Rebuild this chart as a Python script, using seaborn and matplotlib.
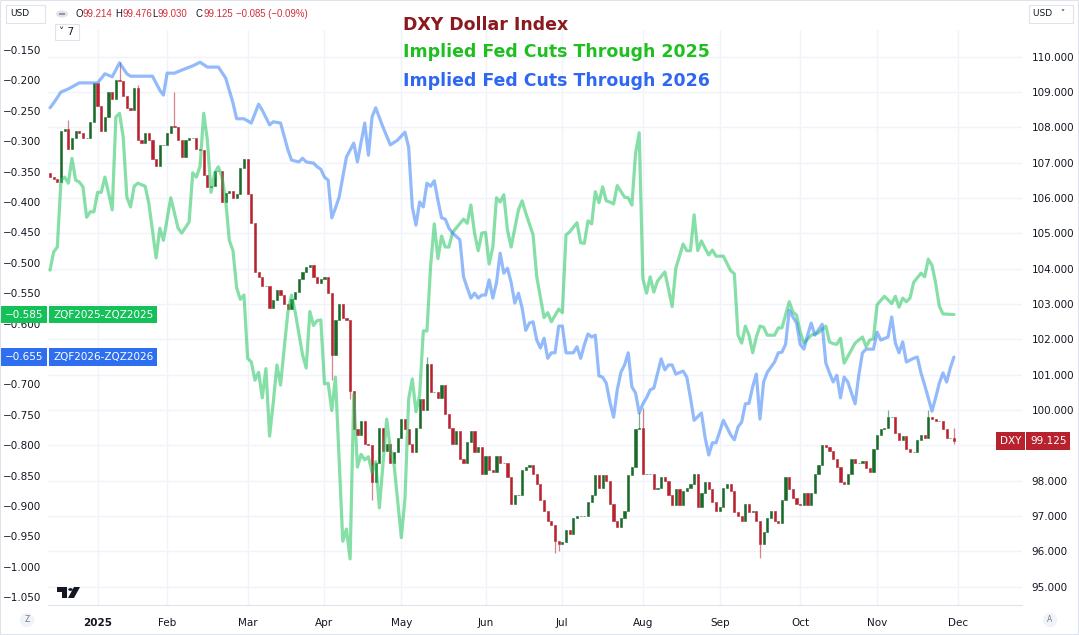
import numpy as np
import pandas as pd
import matplotlib
matplotlib.use('Agg')
import matplotlib.pyplot as plt
import matplotlib.transforms as mtrans
from matplotlib.patches import Rectangle, Circle, Polygon
import seaborn as sns

# DXY daily closes (one per trading session, mid-Dec 2024 -> end Nov 2025)
dxy_first_open = 106.72
dxy_close = [
    106.60, 106.55, 106.45, 107.90, 107.95, 107.40, 107.70, 107.90, 107.85, 107.70,
    107.70, 108.15, 109.25, 108.60, 107.90, 108.30, 109.00, 108.80, 109.35, 109.30,
    108.90, 108.55, 108.50, 109.10, 107.65, 107.55, 107.85, 107.65, 107.10, 106.90,
    107.50, 107.50, 107.85, 108.05, 108.00, 107.65, 107.15, 107.65, 107.70, 107.70,
    107.40, 107.35, 106.65, 106.30, 106.35, 106.75, 106.75, 105.90, 106.15, 106.20,
    106.00, 106.10, 106.85, 107.10, 106.10, 105.30, 103.90, 103.75, 103.50, 103.50,
    102.90, 103.10, 103.40, 103.25, 103.00, 102.85, 103.15, 103.35, 103.70, 103.90,
    104.05, 104.10, 103.75, 103.60, 103.70, 103.75, 103.30, 101.55, 102.55, 103.00,
    102.60, 102.55, 100.55, 99.45, 99.30, 99.70, 99.05, 99.00, 97.95, 98.50,
    99.50, 98.85, 99.05, 98.50, 98.80, 99.20, 99.75, 99.45, 99.05, 98.80,
    99.50, 100.30, 100.00, 101.30, 100.50, 100.50, 100.35, 100.70, 99.90, 99.50,
    99.05, 99.40, 98.60, 98.50, 99.10, 99.40, 98.80, 98.95, 98.20, 98.70,
    98.30, 98.25, 98.70, 98.50, 98.50, 98.10, 97.35, 97.60, 97.60, 98.30,
    98.40, 98.45, 98.20, 97.90, 97.45, 97.15, 96.85, 96.75, 96.30, 96.20,
    96.25, 96.60, 96.50, 96.95, 97.00, 97.00, 97.00, 97.40, 97.60, 98.15,
    97.80, 98.15, 98.00, 97.35, 96.85, 96.70, 96.95, 97.15, 98.15, 98.40,
    99.45, 99.50, 98.20, 98.20, 98.20, 97.75, 97.80, 98.10, 98.00, 97.60,
    97.30, 97.75, 97.30, 97.70, 97.80, 97.90, 98.20, 97.25, 97.65, 97.95,
    97.75, 97.40, 97.15, 97.25, 97.80, 97.90, 97.70, 97.10, 97.00, 96.85,
    97.35, 97.10, 97.15, 96.85, 96.20, 96.55, 96.95, 97.15, 96.85, 96.80,
    97.45, 98.10, 97.75, 97.50, 97.35, 97.30, 97.65, 97.30, 97.65, 98.20,
    98.45, 99.00, 98.95, 98.85, 98.60, 98.40, 97.95, 97.90, 98.20, 98.60,
    98.50, 98.50, 98.55, 98.35, 98.25, 98.90, 99.30, 99.45, 99.50, 99.80,
    99.80, 99.35, 99.15, 99.25, 98.90, 98.80, 98.80, 99.15, 99.30, 99.20,
    99.80, 99.75, 99.70, 99.70, 99.45, 99.20, 99.210, 99.125,
]
# last session as shown in the header
dxy_last_open = 99.214
# visible wick extremes (session -> price)
dxy_highs = {5: 108.2, 19: 109.85, 24: 109.2, 34: 109.0, 103: 101.5,
             161: 99.95, 162: 100.05, 229: 100.0, 240: 100.0, 247: 99.476}
dxy_lows = {77: 100.85, 82: 100.3, 88: 97.45, 138: 95.95, 139: 96.0,
            194: 95.8, 247: 99.030}

# Implied cuts, ZQF2025-ZQZ2025 (session, value)
cuts25_day = [0, 1, 2, 3, 4, 5, 6, 7, 8, 9, 10, 11, 12, 13, 14, 15, 16, 17, 18, 19,
              20, 21, 22, 23, 24, 26, 27, 29, 30, 31, 33, 35, 36, 38, 39, 40, 41, 42, 43, 44,
              45, 46, 47, 48, 49, 50, 51, 52, 53, 54, 55, 56, 57, 58, 59, 60, 61, 62, 63, 64,
              65, 66, 67, 69, 70, 71, 72, 73, 74, 75, 76, 77, 78, 79, 80, 81, 82, 83, 84, 85,
              86, 87, 88, 89, 90, 91, 92, 93, 94, 96, 97, 98, 99, 100, 101, 102, 103, 104, 105, 106,
              107, 108, 109, 110, 113, 114, 115, 116, 117, 118, 119, 120, 121, 122, 123, 124, 125, 126, 128, 129,
              130, 132, 133, 134, 135, 136, 137, 139, 140, 141, 142, 144, 145, 146, 147, 148, 149, 150, 151, 152,
              153, 154, 155, 157, 158, 159, 160, 161, 162, 163, 164, 165, 166, 168, 169, 170, 171, 173, 174, 175,
              176, 177, 178, 179, 180, 181, 182, 184, 186, 187, 188, 189, 190, 191, 192, 193, 194, 195, 196, 198,
              199, 200, 202, 203, 204, 205, 206, 208, 210, 212, 213, 214, 215, 216, 217, 219, 220, 222, 223, 224,
              225, 226, 228, 229, 230, 231, 232, 233, 234, 235, 236, 238, 239, 240, 241, 242, 243, 244, 247]
cuts25 = [-0.512, -0.482, -0.474, -0.364, -0.359, -0.369, -0.328, -0.364, -0.367, -0.375,
          -0.425, -0.416, -0.416, -0.384, -0.384, -0.359, -0.385, -0.413, -0.260, -0.254,
          -0.293, -0.392, -0.408, -0.374, -0.369, -0.374, -0.402, -0.492, -0.443, -0.463,
          -0.393, -0.443, -0.451, -0.433, -0.352, -0.359, -0.341, -0.254, -0.298, -0.384,
          -0.352, -0.342, -0.359, -0.397, -0.463, -0.480, -0.541, -0.560, -0.553, -0.657,
          -0.663, -0.693, -0.680, -0.722, -0.674, -0.785, -0.730, -0.668, -0.701, -0.640,
          -0.581, -0.553, -0.581, -0.651, -0.673, -0.580, -0.603, -0.595, -0.594, -0.699,
          -0.698, -0.743, -0.688, -0.824, -0.958, -0.938, -0.987, -0.716, -0.836, -0.815,
          -0.824, -0.819, -0.845, -0.827, -0.903, -0.829, -0.757, -0.806, -0.831, -0.952,
          -0.887, -0.724, -0.691, -0.745, -0.718, -0.612, -0.612, -0.505, -0.436, -0.493,
          -0.456, -0.474, -0.474, -0.450, -0.428, -0.435, -0.405, -0.451, -0.480, -0.451,
          -0.450, -0.502, -0.474, -0.393, -0.400, -0.388, -0.446, -0.474, -0.413, -0.398,
          -0.418, -0.454, -0.523, -0.556, -0.590, -0.582, -0.597, -0.576, -0.582, -0.454,
          -0.449, -0.434, -0.467, -0.468, -0.431, -0.436, -0.383, -0.401, -0.375, -0.398,
          -0.400, -0.403, -0.373, -0.392, -0.393, -0.405, -0.320, -0.286, -0.526, -0.550,
          -0.523, -0.548, -0.530, -0.515, -0.543, -0.572, -0.509, -0.469, -0.480, -0.480,
          -0.421, -0.480, -0.464, -0.476, -0.487, -0.479, -0.489, -0.489, -0.513, -0.518,
          -0.619, -0.632, -0.604, -0.619, -0.648, -0.622, -0.604, -0.606, -0.619, -0.619,
          -0.607, -0.607, -0.564, -0.581, -0.586, -0.614, -0.632, -0.619, -0.615, -0.604,
          -0.630, -0.633, -0.634, -0.624, -0.665, -0.643, -0.632, -0.622, -0.638, -0.627,
          -0.625, -0.569, -0.555, -0.561, -0.567, -0.555, -0.573, -0.558, -0.564, -0.558,
          -0.532, -0.517, -0.523, -0.494, -0.504, -0.533, -0.571, -0.584, -0.585]

# Implied cuts, ZQF2026-ZQZ2026 (session, value)
cuts26_day = [0, 1, 3, 5, 8, 13, 15, 17, 19, 21, 22, 28, 30, 31, 32, 34, 36, 39, 41, 43,
              46, 48, 50, 51, 53, 55, 57, 58, 60, 61, 63, 65, 66, 68, 69, 70, 72, 73, 74, 75,
              76, 77, 78, 79, 81, 83, 84, 86, 87, 88, 89, 91, 93, 95, 97, 98, 99, 100, 101, 102,
              103, 104, 105, 106, 107, 108, 109, 110, 112, 113, 114, 115, 116, 117, 118, 119, 120, 121, 122, 123,
              124, 125, 126, 127, 128, 129, 130, 131, 132, 133, 134, 135, 136, 137, 138, 139, 140, 141, 143, 144,
              145, 146, 147, 148, 149, 150, 151, 152, 153, 154, 155, 156, 157, 158, 159, 160, 161, 162, 163, 164,
              165, 167, 168, 169, 170, 171, 173, 174, 175, 176, 178, 179, 180, 181, 182, 184, 186, 187, 188, 189,
              190, 191, 192, 193, 194, 195, 196, 198, 199, 200, 201, 202, 203, 204, 205, 206, 207, 208, 209, 211,
              212, 213, 214, 215, 216, 217, 218, 220, 221, 222, 223, 225, 226, 227, 229, 230, 231, 232, 233, 234,
              236, 237, 238, 239, 241, 242, 243, 244, 245, 246, 247]
cuts26 = [-0.245, -0.237, -0.219, -0.214, -0.204, -0.204, -0.189, -0.194, -0.171, -0.189,
          -0.193, -0.193, -0.216, -0.224, -0.188, -0.188, -0.183, -0.176, -0.170, -0.178,
          -0.178, -0.196, -0.237, -0.263, -0.263, -0.270, -0.239, -0.249, -0.273, -0.268,
          -0.270, -0.314, -0.331, -0.334, -0.328, -0.334, -0.336, -0.342, -0.346, -0.359,
          -0.364, -0.426, -0.410, -0.392, -0.326, -0.303, -0.334, -0.270, -0.323, -0.260,
          -0.245, -0.277, -0.306, -0.298, -0.285, -0.310, -0.408, -0.438, -0.400, -0.408,
          -0.369, -0.374, -0.365, -0.397, -0.426, -0.428, -0.443, -0.451, -0.462, -0.523,
          -0.541, -0.558, -0.550, -0.558, -0.553, -0.553, -0.528, -0.558, -0.533, -0.484,
          -0.517, -0.509, -0.532, -0.566, -0.550, -0.574, -0.611, -0.599, -0.597, -0.627,
          -0.640, -0.624, -0.657, -0.648, -0.648, -0.604, -0.604, -0.648, -0.648, -0.638,
          -0.657, -0.635, -0.617, -0.622, -0.619, -0.686, -0.688, -0.698, -0.729, -0.754,
          -0.709, -0.680, -0.668, -0.648, -0.704, -0.714, -0.747, -0.732, -0.722, -0.709,
          -0.706, -0.658, -0.676, -0.668, -0.668, -0.683, -0.678, -0.688, -0.722, -0.759,
          -0.747, -0.787, -0.816, -0.796, -0.796, -0.759, -0.783, -0.791, -0.770, -0.762,
          -0.732, -0.731, -0.704, -0.683, -0.757, -0.696, -0.680, -0.663, -0.648, -0.647,
          -0.634, -0.578, -0.589, -0.599, -0.634, -0.642, -0.619, -0.599, -0.619, -0.601,
          -0.665, -0.681, -0.696, -0.685, -0.722, -0.688, -0.696, -0.732, -0.685, -0.648,
          -0.642, -0.642, -0.614, -0.627, -0.622, -0.589, -0.632, -0.648, -0.630, -0.663,
          -0.657, -0.655, -0.681, -0.701, -0.744, -0.722, -0.698, -0.681, -0.696, -0.673,
          -0.655]

month_pos = [13, 32, 54, 75, 96, 119, 140, 162, 183, 205, 226, 248]
month_labels = ['2025', 'Feb', 'Mar', 'Apr', 'May', 'Jun', 'Jul', 'Aug', 'Sep', 'Oct', 'Nov', 'Dec']

RED = '#b7222e'
GREEN = '#1a6a2a'
TXT = '#131722'
NUMRED = '#d12d3a'

sns.set_style('white')
plt.rcParams['font.family'] = ['DejaVu Sans']

W, H = 1079, 635
fig = plt.figure(figsize=(W / 100, H / 100), dpi=100)


def fx(px):
    return px / W


def fy(py):
    return 1 - py / H


ax = fig.add_axes([fx(48), fy(605), (1022 - 48) / W, (605 - 30) / H])
ax_l = ax.twinx()
ax.yaxis.tick_right()
ax_l.yaxis.tick_left()

# candles
df = pd.DataFrame({'close': dxy_close})
df['open'] = df['close'].shift(1).fillna(dxy_first_open)
df.loc[len(df) - 1, 'open'] = dxy_last_open
df['day'] = np.arange(len(df))
up = df['close'] >= df['open']
cols = np.where(up, GREEN, RED)
for d, hi in dxy_highs.items():
    top = max(df.loc[d, 'open'], df.loc[d, 'close'])
    ax.vlines(d, top, hi, color=cols[d], lw=0.9, alpha=0.55, zorder=2)
for d, lo in dxy_lows.items():
    bot = min(df.loc[d, 'open'], df.loc[d, 'close'])
    ax.vlines(d, lo, bot, color=cols[d], lw=0.9, alpha=0.55, zorder=2)
ax.bar(df['day'], df['close'] - df['open'], bottom=df['open'], width=0.6,
       color=cols, edgecolor=cols, linewidth=0.4, zorder=3)

last_dxy = dxy_close[-1]
ax.set_xlim(-0.55, 265.6)
ax.set_ylim(94.48, 110.755)
ax.set_yticks(np.arange(95, 111, 1))
# the last-price tag hides the nearest tick label
ax.yaxis.set_major_formatter(plt.FuncFormatter(
    lambda v, p: '' if abs(v - last_dxy) < 0.3 else f'{v:.3f}'))
ax.set_xticks(month_pos)
ax.set_xticklabels(month_labels)
ax.get_xticklabels()[0].set_fontweight('bold')
ax.grid(True, color='#f0f3fa', lw=1.0)
ax.tick_params(axis='y', length=0, pad=7, labelsize=7.5, labelcolor=TXT)
ax.tick_params(axis='x', length=0, pad=9, labelsize=7.5, labelcolor=TXT)

# implied cuts lines
sns.lineplot(x=cuts25_day, y=cuts25, ax=ax_l, color='#22c55e', lw=2.3, alpha=0.55)
sns.lineplot(x=cuts26_day, y=cuts26, ax=ax_l, color='#3b82f6', lw=2.3, alpha=0.55)
ax_l.set_ylim(-1.0628, -0.117)
ax_l.set_yticks(np.arange(-1.05, -0.149, 0.05))
ax_l.yaxis.set_major_formatter(plt.FuncFormatter(
    lambda v, p: '' if abs(v - cuts26[-1]) < 0.02 else f'{v:.3f}'.replace('-', '\u2212')))
ax_l.tick_params(axis='y', length=0, pad=5, labelsize=7.5, labelcolor=TXT)
ax_l.set_ylabel('')
ax.set_ylabel('')

for a in (ax, ax_l):
    for s in a.spines.values():
        s.set_visible(False)
ax.spines['bottom'].set_visible(True)
ax.spines['bottom'].set_color('#e0e3eb')

# last-value labels
tl = mtrans.blended_transform_factory(fig.transFigure, ax_l.transData)
tr = mtrans.blended_transform_factory(fig.transFigure, ax.transData)
box = dict(boxstyle='square,pad=0.35', ec='none')
for val, name, c in [(cuts25[-1], 'ZQF2025-ZQZ2025', '#13c158'), (cuts26[-1], 'ZQF2026-ZQZ2026', '#2d6ff0')]:
    ax_l.text(fx(5), val, f'{val:.3f}'.replace('-', '\u2212'), transform=tl, ha='left', va='center',
              color='white', fontsize=7.5, bbox=dict(box, fc=c), zorder=10, clip_on=False)
    ax_l.text(fx(53), val, name, transform=tl, ha='left', va='center',
              color='white', fontsize=7.5, bbox=dict(box, fc=c), zorder=10, clip_on=False)
ax_l.text(fx(1000), last_dxy, 'DXY', transform=tr, ha='left', va='center',
          color='white', fontsize=7.5, bbox=dict(box, fc=RED), zorder=10, clip_on=False)
ax_l.text(fx(1030), last_dxy, f'{last_dxy:.3f}', transform=tr, ha='left', va='center',
          color='white', fontsize=7.5, bbox=dict(box, fc=RED), zorder=10, clip_on=False)

# titles
fig.text(fx(403), fy(25), 'DXY Dollar Index', color='#8b1a1f', fontsize=12.5, fontweight='bold', va='center')
fig.text(fx(403), fy(52), 'Implied Fed Cuts Through 2025', color='#1fbf1f', fontsize=12.5, fontweight='bold', va='center')
fig.text(fx(403), fy(81), 'Implied Fed Cuts Through 2026', color='#2f66f2', fontsize=12.5, fontweight='bold', va='center')

# header: OHLC of the last session
last = df.iloc[-1]
chg = last['close'] - dxy_close[-2]
ohlc = [(75, 7.3, 'O', f"{last['open']:.3f}"), (115, 6.8, 'H', f'{dxy_highs[247]:.3f}'),
        (152, 5.3, 'L', f'{dxy_lows[247]:.3f}'), (196, 6.8, 'C', f"{last['close']:.3f}")]
hfont = dict(fontsize=6.9, va='center', family=['Liberation Sans', 'DejaVu Sans'])
for px, lw_, letter, num in ohlc:
    fig.text(fx(px), fy(14), letter, color=TXT, **hfont)
    fig.text(fx(px + lw_ + 0.3), fy(14), num, color=NUMRED, **hfont)
fig.text(fx(236), fy(14), f'{chg:.3f} ({chg / dxy_close[-2] * 100:.2f}%)'.replace('-', '\u2212'),
         color=NUMRED, **hfont)
fig.patches.append(Circle((fx(62), fy(14)), 6 / W, transform=fig.transFigure, fc='#e0e3eb', ec='none'))
fig.patches.append(Rectangle((fx(59), fy(14.7)), 6 / W, 1.4 / H, transform=fig.transFigure, fc='#9598a1', ec='none'))

for x0, y0, w, h, s in [(6, 5, 39, 18, 'USD'), (55, 24, 24, 16, '\u02c5 7'), (1029, 5, 44, 18, 'USD   \u02c5')]:
    fig.patches.append(Rectangle((fx(x0), fy(y0 + h)), w / W, h / H, transform=fig.transFigure,
                                 fc='white', ec='#e0e3eb', lw=0.8))
    fig.text(fx(x0 + 4), fy(y0 + h / 2), s, color=TXT, fontsize=6.5 if 'USD' in s else 7.5, va='center')

for px, s in [(27, 'Z'), (1050, 'A')]:
    fig.text(fx(px), fy(620), s, color='#787b86', fontsize=5.5, ha='center', va='center',
             bbox=dict(boxstyle='circle,pad=0.35', fc='#f0f3fa', ec='none'))

# TradingView mark
logo = [[(57, 587), (67, 587), (67, 598), (62, 598), (62, 592), (57, 592)],
        [(74, 587), (80, 587), (74, 598), (68, 598)]]
for pts in logo:
    fig.patches.append(Polygon([(fx(a), fy(b)) for a, b in pts], closed=True,
                               transform=fig.transFigure, fc='#131722', ec='none'))
fig.patches.append(Circle((fx(70.5), fy(589.5)), 2.3 / W, transform=fig.transFigure, fc='#131722', ec='none'))

fig.patches.append(Rectangle((0, 0), 1, 1, transform=fig.transFigure, fill=False, ec='#e0e3eb', lw=1.5))

fig.savefig('out.png', dpi=100)
